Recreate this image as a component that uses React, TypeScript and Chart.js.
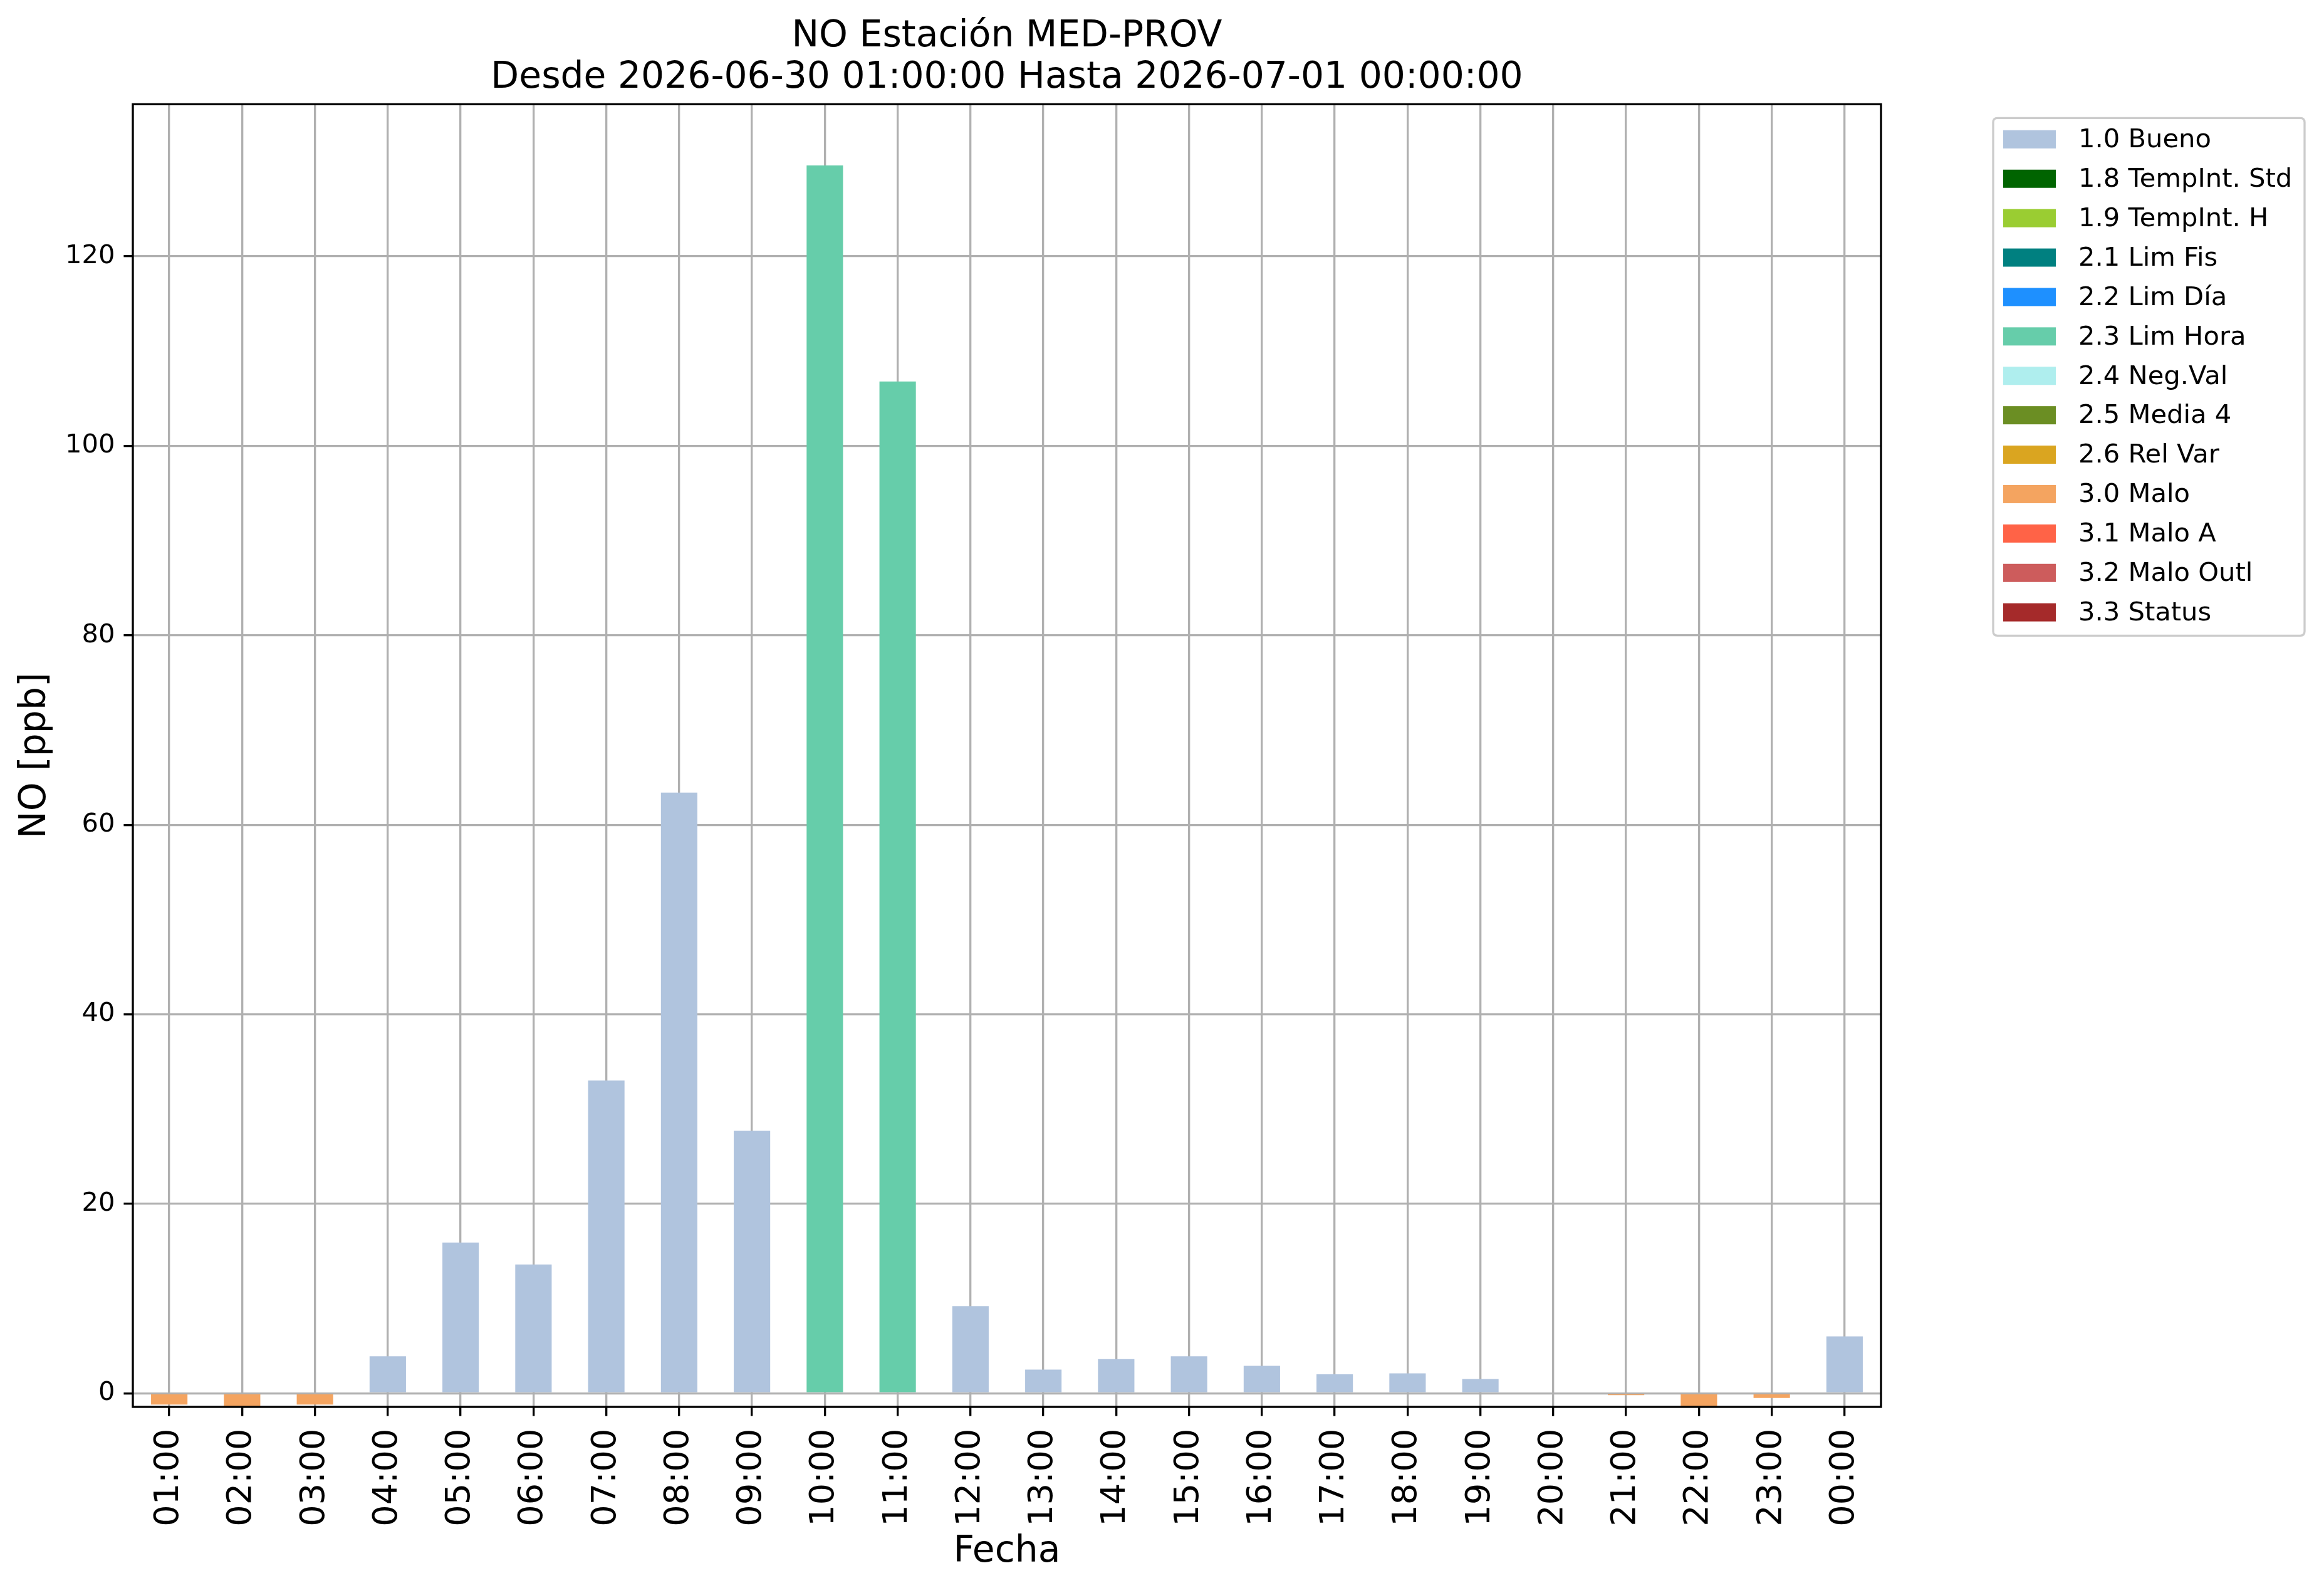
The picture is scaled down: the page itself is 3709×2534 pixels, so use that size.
import React, { useEffect, useRef } from 'react';
import { Chart, registerables } from 'chart.js';

Chart.register(...registerables);

// ---------- data ----------
const hours = [
  '01:00', '02:00', '03:00', '04:00', '05:00', '06:00', '07:00', '08:00',
  '09:00', '10:00', '11:00', '12:00', '13:00', '14:00', '15:00', '16:00',
  '17:00', '18:00', '19:00', '20:00', '21:00', '22:00', '23:00', '00:00',
];

const values: (number | null)[] = [
  -1.2, -1.5, -1.2, 3.9, 15.9, 13.6, 33.0, 63.4,
  27.7, 129.6, 106.8, 9.2, 2.5, 3.6, 3.9, 2.9,
  2.0, 2.1, 1.5, null, -0.2, -1.5, -0.5, 6.0,
];

const flags = [
  '3.0 Malo', '3.0 Malo', '3.0 Malo', '1.0 Bueno', '1.0 Bueno', '1.0 Bueno', '1.0 Bueno', '1.0 Bueno',
  '1.0 Bueno', '2.3 Lim Hora', '2.3 Lim Hora', '1.0 Bueno', '1.0 Bueno', '1.0 Bueno', '1.0 Bueno', '1.0 Bueno',
  '1.0 Bueno', '1.0 Bueno', '1.0 Bueno', '1.0 Bueno', '3.0 Malo', '3.0 Malo', '3.0 Malo', '1.0 Bueno',
];

const classLabels = [
  '1.0 Bueno', '1.8 TempInt. Std', '1.9 TempInt. H', '2.1 Lim Fis', '2.2 Lim Día',
  '2.3 Lim Hora', '2.4 Neg.Val', '2.5 Media 4', '2.6 Rel Var', '3.0 Malo',
  '3.1 Malo A', '3.2 Malo Outl', '3.3 Status',
];

const classColors = [
  '#B0C4DE', '#006400', '#9ACD32', '#008080', '#1E90FF',
  '#66CDAA', '#AFEEEE', '#6B8E23', '#DAA520', '#F4A460',
  '#FF6347', '#CD5C5C', '#A52A2A',
];

const yTicks = [0, 20, 40, 60, 80, 100, 120];
const yMin = -1.44;
const yMax = 136.06;

const titleLines = [
  'NO Estación MED-PROV',
  'Desde 2026-06-30 01:00:00 Hasta 2026-07-01 00:00:00',
];
const yLabel = 'NO [ppb]';
const xLabel = 'Fecha';

// ---------- style ----------
const W = 3709;
const H = 2534;
const FONT = '"DejaVu Sans", "Liberation Sans", sans-serif';
const PT = 300 / 72;
const GRID = '#b0b0b0';
const LW = 0.8 * PT;

const framePlugin = {
  id: 'mplFrame',
  afterDraw(chart: any) {
    const { ctx, chartArea: a } = chart;
    ctx.save();
    ctx.strokeStyle = '#000';
    ctx.lineWidth = LW;
    ctx.lineJoin = 'miter';
    ctx.strokeRect(a.left, a.top, a.right - a.left, a.bottom - a.top);
    ctx.restore();
  },
};

const legendPlugin = {
  id: 'mplLegend',
  afterDraw(chart: any) {
    const { ctx, chartArea: a } = chart;
    const x0 = a.right + 179;
    const y0 = a.top + 22;
    const w = 497;
    const h = 826;
    const rowH = 62.9;
    const r = 7;
    ctx.save();
    ctx.beginPath();
    ctx.moveTo(x0 + r, y0);
    ctx.lineTo(x0 + w - r, y0);
    ctx.quadraticCurveTo(x0 + w, y0, x0 + w, y0 + r);
    ctx.lineTo(x0 + w, y0 + h - r);
    ctx.quadraticCurveTo(x0 + w, y0 + h, x0 + w - r, y0 + h);
    ctx.lineTo(x0 + r, y0 + h);
    ctx.quadraticCurveTo(x0, y0 + h, x0, y0 + h - r);
    ctx.lineTo(x0, y0 + r);
    ctx.quadraticCurveTo(x0, y0, x0 + r, y0);
    ctx.closePath();
    ctx.fillStyle = 'rgba(255,255,255,0.8)';
    ctx.fill();
    ctx.strokeStyle = '#cccccc';
    ctx.lineWidth = LW;
    ctx.stroke();

    ctx.font = `${10 * PT}px ${FONT}`;
    ctx.textBaseline = 'middle';
    ctx.textAlign = 'left';
    chart.data.datasets.forEach((ds: any, i: number) => {
      const cy = y0 + 34 + i * rowH;
      ctx.fillStyle = ds.backgroundColor;
      ctx.fillRect(x0 + 16, cy - 14.5, 84, 29);
      ctx.fillStyle = '#000';
      ctx.fillText(ds.label, x0 + 136, cy + 2);
    });
    ctx.restore();
  },
};

export default function App() {
  const canvasRef = useRef<HTMLCanvasElement | null>(null);

  useEffect(() => {
    document.body.style.margin = '0';
    document.body.style.overflow = 'hidden';
    const canvas = canvasRef.current;
    if (!canvas) return;

    const datasets = classLabels.map((label, ci) => ({
      label,
      data: values.map((v, i) => (flags[i] === label ? v : null)),
      backgroundColor: classColors[ci],
      borderWidth: 0,
      barPercentage: 0.5,
      categoryPercentage: 1.0,
    }));

    const chart = new Chart(canvas, {
      type: 'bar',
      data: { labels: hours, datasets },
      options: {
        responsive: false,
        animation: false,
        devicePixelRatio: 1,
        layout: { padding: { left: 0, right: 707, top: 0, bottom: 0 } },
        plugins: {
          legend: { display: false },
          tooltip: { enabled: false },
          title: {
            display: true,
            text: titleLines,
            color: '#000',
            fullSize: false,
            font: { family: FONT, size: 14 * PT, weight: 'normal', lineHeight: 1.13 },
            padding: { top: 25.5, bottom: 9 },
          },
        },
        scales: {
          x: {
            stacked: true,
            offset: true,
            z: 1,
            grid: {
              offset: false,
              color: GRID,
              lineWidth: LW,
              drawTicks: true,
              tickLength: 3.5 * PT,
              tickColor: '#000',
              tickWidth: LW,
            },
            border: { display: false },
            ticks: {
              autoSkip: false,
              minRotation: 90,
              maxRotation: 90,
              color: '#000',
              padding: 20,
              font: { family: FONT, size: 13 * PT },
            },
            title: {
              display: true,
              text: xLabel,
              color: '#000',
              font: { family: FONT, size: 14 * PT },
              padding: { top: 22, bottom: 22 },
            },
            afterFit(scale: any) {
              scale.height = 289;
            },
          },
          y: {
            stacked: true,
            min: yMin,
            max: yMax,
            z: 1,
            grid: {
              color: GRID,
              lineWidth: LW,
              drawTicks: true,
              tickLength: 3.5 * PT,
              tickColor: '#000',
              tickWidth: LW,
            },
            border: { display: false },
            ticks: {
              color: '#000',
              padding: 14,
              font: { family: FONT, size: 10 * PT },
              callback: (v: any) => String(v),
            },
            afterBuildTicks(scale: any) {
              scale.ticks = yTicks.map((v) => ({ value: v }));
            },
            title: {
              display: true,
              text: yLabel,
              color: '#000',
              font: { family: FONT, size: 14 * PT },
              padding: { top: 22, bottom: 22 },
            },
            afterFit(scale: any) {
              scale.width = 212;
            },
          },
        },
      },
      plugins: [framePlugin, legendPlugin],
    } as any);

    return () => {
      chart.destroy();
    };
  }, []);

  return (
    <div style={{ width: W, height: H, background: '#fff' }}>
      <canvas ref={canvasRef} width={W} height={H} style={{ display: 'block' }} />
    </div>
  );
}
